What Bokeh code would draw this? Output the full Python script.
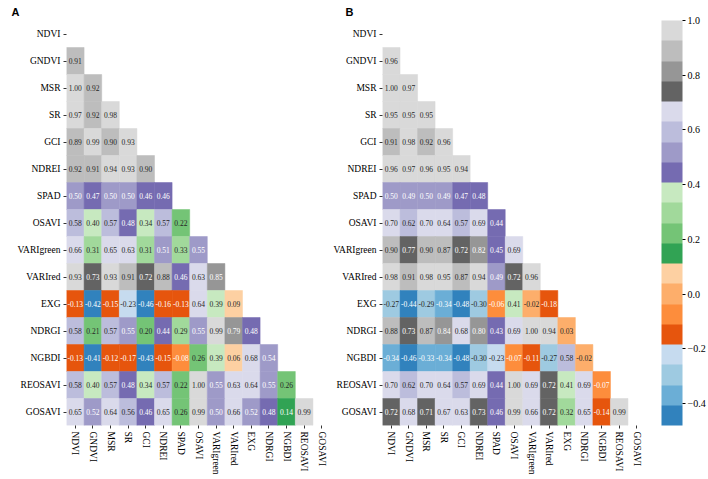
from bokeh.plotting import figure
from bokeh.models import (LinearColorMapper, ColorBar, FixedTicker, CustomJSTickFormatter,
                          ColumnDataSource)
from bokeh.layouts import row
from bokeh.transform import transform
from bokeh.core.properties import value
from bokeh.embed import file_html
from bokeh.resources import INLINE
from bokeh.palettes import Category20c_20

# ---------------- data ----------------
labels = ["NDVI", "GNDVI", "MSR", "SR", "GCI", "NDREI", "SPAD", "OSAVI",
          "VARIgreen", "VARIred", "EXG", "NDRGI", "NGBDI", "REOSAVI", "GOSAVI"]

# lower triangle (row i, columns 0..i-1) -- panel A
corr_a = [
    [],
    [0.91],
    [1.00, 0.92],
    [0.97, 0.92, 0.98],
    [0.89, 0.99, 0.90, 0.93],
    [0.92, 0.91, 0.94, 0.93, 0.90],
    [0.50, 0.47, 0.50, 0.50, 0.46, 0.46],
    [0.58, 0.40, 0.57, 0.48, 0.34, 0.57, 0.22],
    [0.66, 0.31, 0.65, 0.632, 0.31, 0.51, 0.33, 0.55],
    [0.93, 0.73, 0.93, 0.91, 0.72, 0.88, 0.46, 0.632, 0.85],
    [-0.13, -0.42, -0.15, -0.23, -0.46, -0.16, -0.13, 0.64, 0.39, 0.09],
    [0.58, 0.21, 0.57, 0.55, 0.20, 0.44, 0.29, 0.55, 0.99, 0.79, 0.48],
    [-0.13, -0.41, -0.12, -0.17, -0.43, -0.15, -0.08, 0.258, 0.39, 0.06, 0.68, 0.54],
    [0.58, 0.40, 0.57, 0.48, 0.34, 0.57, 0.22, 1.00, 0.55, 0.632, 0.64, 0.55, 0.258],
    [0.65, 0.52, 0.64, 0.56, 0.46, 0.65, 0.258, 0.99, 0.50, 0.66, 0.52, 0.48, 0.14, 0.99],
]

# lower triangle -- panel B
corr_b = [
    [],
    [0.96],
    [1.00, 0.97],
    [0.95, 0.95, 0.95],
    [0.91, 0.98, 0.92, 0.96],
    [0.96, 0.97, 0.96, 0.95, 0.94],
    [0.50, 0.49, 0.50, 0.49, 0.47, 0.48],
    [0.70, 0.62, 0.70, 0.64, 0.57, 0.69, 0.44],
    [0.90, 0.77, 0.90, 0.87, 0.72, 0.82, 0.45, 0.69],
    [0.98, 0.91, 0.98, 0.95, 0.87, 0.94, 0.49, 0.72, 0.96],
    [-0.27, -0.44, -0.29, -0.34, -0.48, -0.30, -0.06, 0.407, -0.02, -0.182],
    [0.88, 0.73, 0.87, 0.84, 0.68, 0.80, 0.43, 0.69, 1.00, 0.94, 0.03],
    [-0.34, -0.46, -0.334, -0.34, -0.48, -0.30, -0.23, -0.07, -0.112, -0.27, 0.58, -0.02],
    [0.70, 0.62, 0.70, 0.64, 0.57, 0.69, 0.44, 1.00, 0.69, 0.72, 0.407, 0.69, -0.07],
    [0.72, 0.68, 0.71, 0.67, 0.632, 0.73, 0.46, 0.99, 0.66, 0.72, 0.32, 0.65, -0.14, 0.99],
]

color_low = -0.48
color_high = 1.0
cbar_ticks = [-0.4, -0.2, 0.0, 0.2, 0.4, 0.6, 0.8, 1.0]

# ---------------- styling ----------------
palette = list(Category20c_20)


def _lum(hexc):
    r, g, b = (int(hexc[i:i + 2], 16) / 255 for i in (1, 3, 5))
    f = lambda c: c / 12.92 if c <= 0.03928 else ((c + 0.055) / 1.055) ** 2.4
    return 0.2126 * f(r) + 0.7152 * f(g) + 0.0722 * f(b)


text_palette = ["#262626" if _lum(c) > 0.408 else "#ffffff" for c in palette]

mapper = LinearColorMapper(palette=palette, low=color_low, high=color_high)
text_mapper = LinearColorMapper(palette=text_palette, low=color_low, high=color_high)

SERIF = "Liberation Serif"
FRAME_H = 405
HEIGHT = 479
TOP = 20


def cells(rows):
    xs, ys, vs, ts = [], [], [], []
    for i, r in enumerate(rows):
        for j, v in enumerate(r):
            xs.append(labels[j])
            ys.append(labels[i])
            vs.append(v)
            ts.append(f"{v:.2f}")
    return ColumnDataSource(dict(x=xs, y=ys, v=vs, t=ts))


def panel(rows, letter, width, left, right, letter_offset):
    p = figure(width=width, height=HEIGHT, x_range=labels, y_range=list(reversed(labels)),
               output_backend="svg", toolbar_location=None,
               min_border_left=left, min_border_right=right,
               min_border_top=TOP, min_border_bottom=HEIGHT - TOP - FRAME_H)
    p.outline_line_color = None
    p.grid.visible = False
    src = cells(rows)
    p.rect("x", "y", 1, 1, source=src, fill_color=transform("v", mapper),
           line_color=transform("v", mapper), line_width=0.5)
    p.text("x", "y", text="t", source=src, text_align="center", text_baseline="middle",
           text_font=value(SERIF), text_font_size="7.5px",
           text_color=transform("v", text_mapper))
    for ax in (p.xaxis[0], p.yaxis[0]):
        ax.axis_line_color = None
        ax.major_tick_line_color = "black"
        ax.major_tick_line_width = 0.8
        ax.major_tick_in = 0
        ax.major_tick_out = 3
        ax.minor_tick_line_color = None
        ax.major_label_standoff = 3
        ax.major_label_text_font = SERIF
        ax.major_label_text_font_size = "9.5px"
        ax.major_label_text_color = "black"
    p.xaxis.major_label_orientation = "vertical"
    p.title.text = letter
    p.title.align = "left"
    p.title.offset = letter_offset
    p.title.standoff = 5
    p.title.text_font = "Liberation Sans"
    p.title.text_font_style = "bold"
    p.title.text_font_size = "11px"
    p.title.text_color = "black"
    return p


pa = panel(corr_a, "A", 330, 66, 0, -55)
pb = panel(corr_b, "B", 378, 52, 62, -37)

cb = ColorBar(color_mapper=mapper, ticker=FixedTicker(ticks=cbar_ticks),
              formatter=CustomJSTickFormatter(code="return tick.toFixed(1).replace('-', '\\u2212')"),
              width=21, height=FRAME_H, padding=0, margin=0, location=(16, 0),
              major_tick_in=0, major_tick_out=3, major_tick_line_color="black",
              minor_tick_line_color=None, bar_line_color=None, label_standoff=2,
              major_label_text_font=SERIF, major_label_text_font_size="10px",
              major_label_text_color="black", background_fill_alpha=0,
              border_line_color=None)
pb.add_layout(cb, "right")

layout = row(pa, pb)
open("out.html", "w").write(file_html(layout, INLINE))
